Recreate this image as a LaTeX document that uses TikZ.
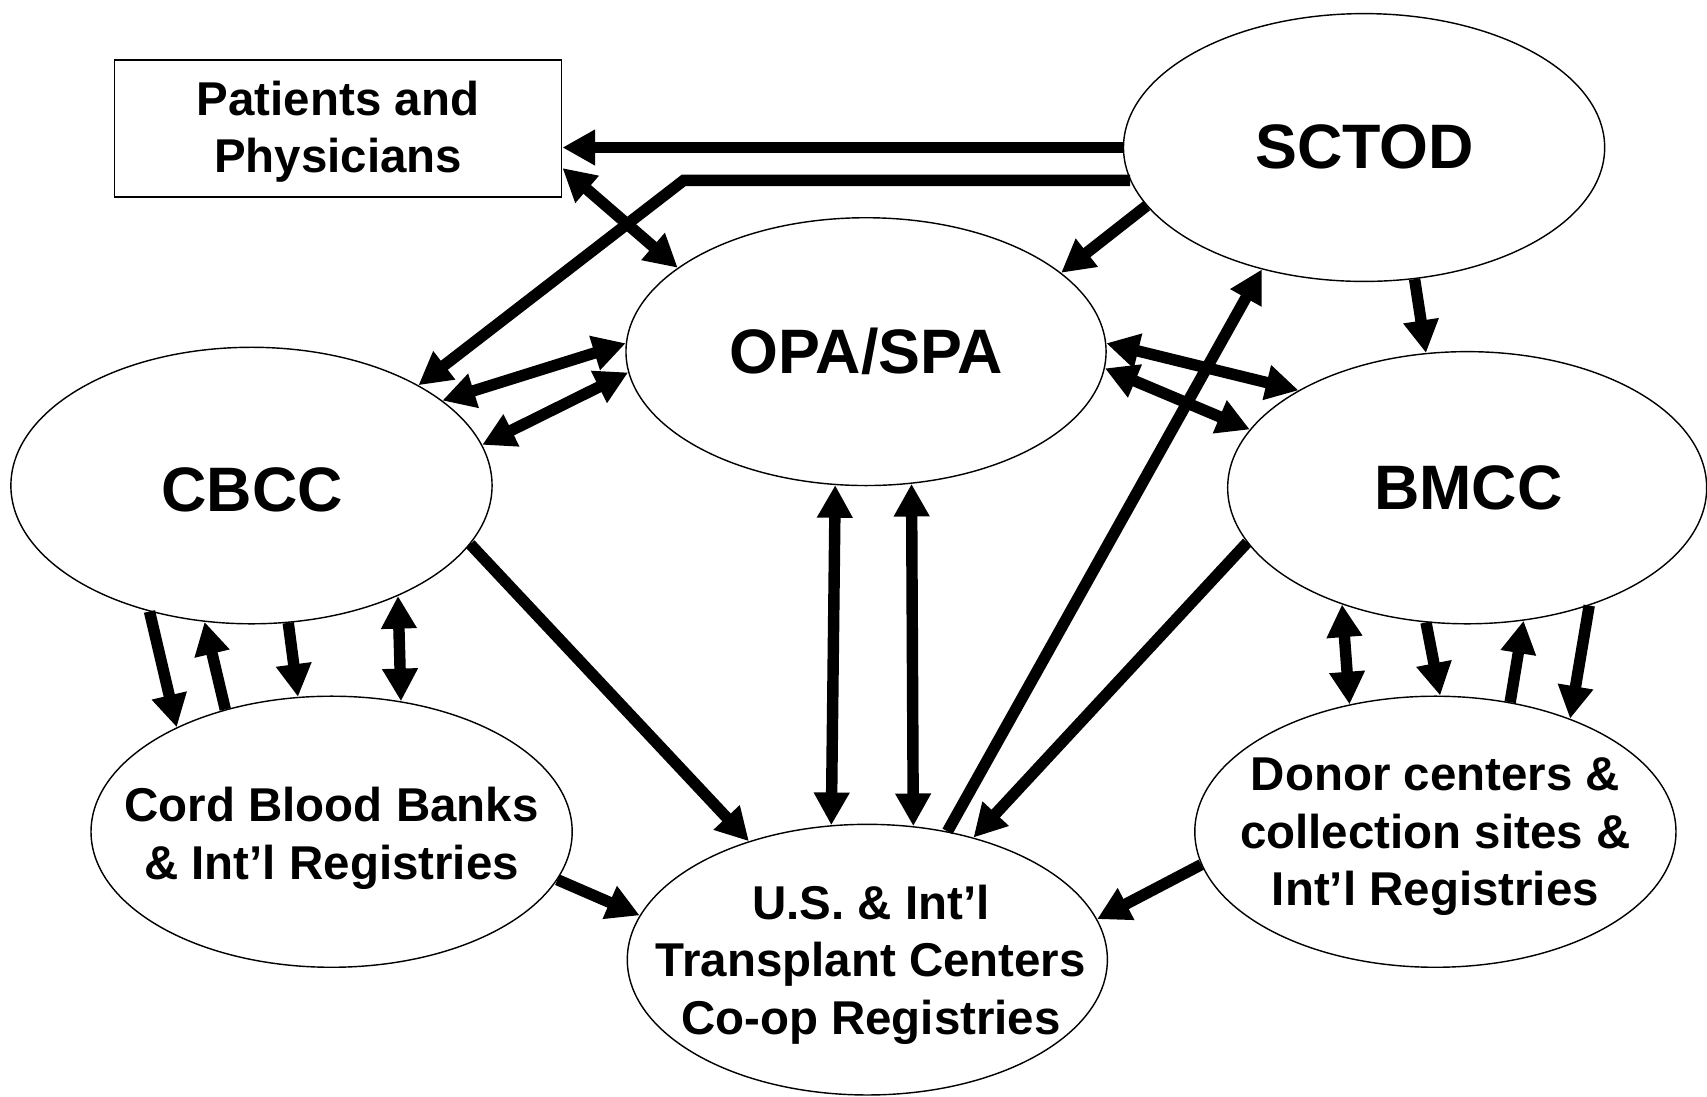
\documentclass[tikz,border=0pt]{standalone}
\usepackage{fontspec}
\setmainfont{Liberation Sans}
\usetikzlibrary{shapes.geometric,arrows.meta}
\begin{document}
\begin{tikzpicture}[x=1pt,y=-1pt,
  ell/.style={draw, ellipse, line width=1.3pt, inner sep=0pt},
  box/.style={draw, rectangle, line width=1.3pt, inner sep=0pt},
  big/.style={font=\bfseries\fontsize{57.7}{60}\selectfont},
  small/.style={font=\bfseries\fontsize{43.6}{53}\selectfont, align=center},
  tip/.tip={Triangle[width=31pt,length=30pt]},
  arr/.style={line width=10.5pt, -tip},
  darr/.style={line width=10.5pt, tip-tip}]
\useasboundingbox (0,0) rectangle (1568,1007);

% shapes
\node[box, minimum width=411pt, minimum height=126pt] (P) at (310.5,118) {};
\node[ell, minimum width=442pt, minimum height=246pt] (S) at (1253,135.5) {};
\node[ell, minimum width=441pt, minimum height=246pt] (O) at (795.5,323) {};
\node[ell, minimum width=442pt, minimum height=254pt] (C) at (231,446) {};
\node[ell, minimum width=440pt, minimum height=250pt] (B) at (1347.7,448) {};
\node[ell, minimum width=442pt, minimum height=249pt] (D) at (304.6,764) {};
\node[ell, minimum width=442pt, minimum height=249pt] (N) at (1318.5,764) {};
\node[ell, minimum width=441pt, minimum height=248.6pt] (T) at (796.7,881.5) {};

% texts
\node[big] (tS) at (1253.5,134.7) {SCTOD};
\node[big] (tO) at (796,323) {OPA/SPA};
\node[big] (tC) at (231.5,450) {CBCC};
\node[big] (tB) at (1348.7,448.5) {BMCC};
\node[small] (tP) at (310.5,121) {Patients and\\Physicians};
\node[small] (tD) at (304.6,769.8) {Cord Blood Banks\\\& Int’l Registries};
\node[small] (tN) at (1318.5,768.6) {Donor centers \&\\collection sites \&\\Int’l Registries};
\node[small] (tT) at (800,886) {U.S. \& Int’l\\Transplant Centers\\Co-op Registries};

% connectors
\coordinate (bend) at (628,167.5);
\draw[arr] (S.west) -- (S.west -| P.east);
\draw[arr] (S.188.53) -- (S.188.53 -| bend) -- (C.31.02);
\draw[darr] (P.-10.75) -- (O.156.8);
\draw[arr] (S.195.98) -- (O.22.83);
\draw[arr] (S.-69.94) -- (B.107);
\draw[darr] (C.24.82) -- (O.178);
\draw[darr] (C.10.4) -- (O.185.24);
\draw[darr] (O.2.81) -- (B.150.86);
\draw[darr] (O.-4.71) -- (B.165.23);
\draw[arr] (T.58.4) -- (S.230.2);
\draw[arr] (B.194.23) -- (T.49.1);
\draw[arr] (C.-15.35) -- (T.135.63);
\draw[darr] (O.257.3) -- (T.105);
\draw[darr] (O.-71.5) -- (T.71.2);
\draw[arr] (D.-12) -- (T.169.37);
\draw[arr] (N.188.19) -- (T.10.94);
\draw[arr] (C.231.26) -- (D.146.16);
\draw[arr] (D.131.26) -- (C.251.55);
\draw[arr] (C.-75.68) -- (D.104.86);
\draw[darr] (C.-37.4) -- (D.62);
\draw[darr] (B.223.02) -- (N.124.35);
\draw[arr] (B.253.63) -- (N.88.36);
\draw[arr] (N.60.76) -- (B.-67.1);
\draw[arr] (B.-44.46) -- (N.40.85);
\end{tikzpicture}
\end{document}
